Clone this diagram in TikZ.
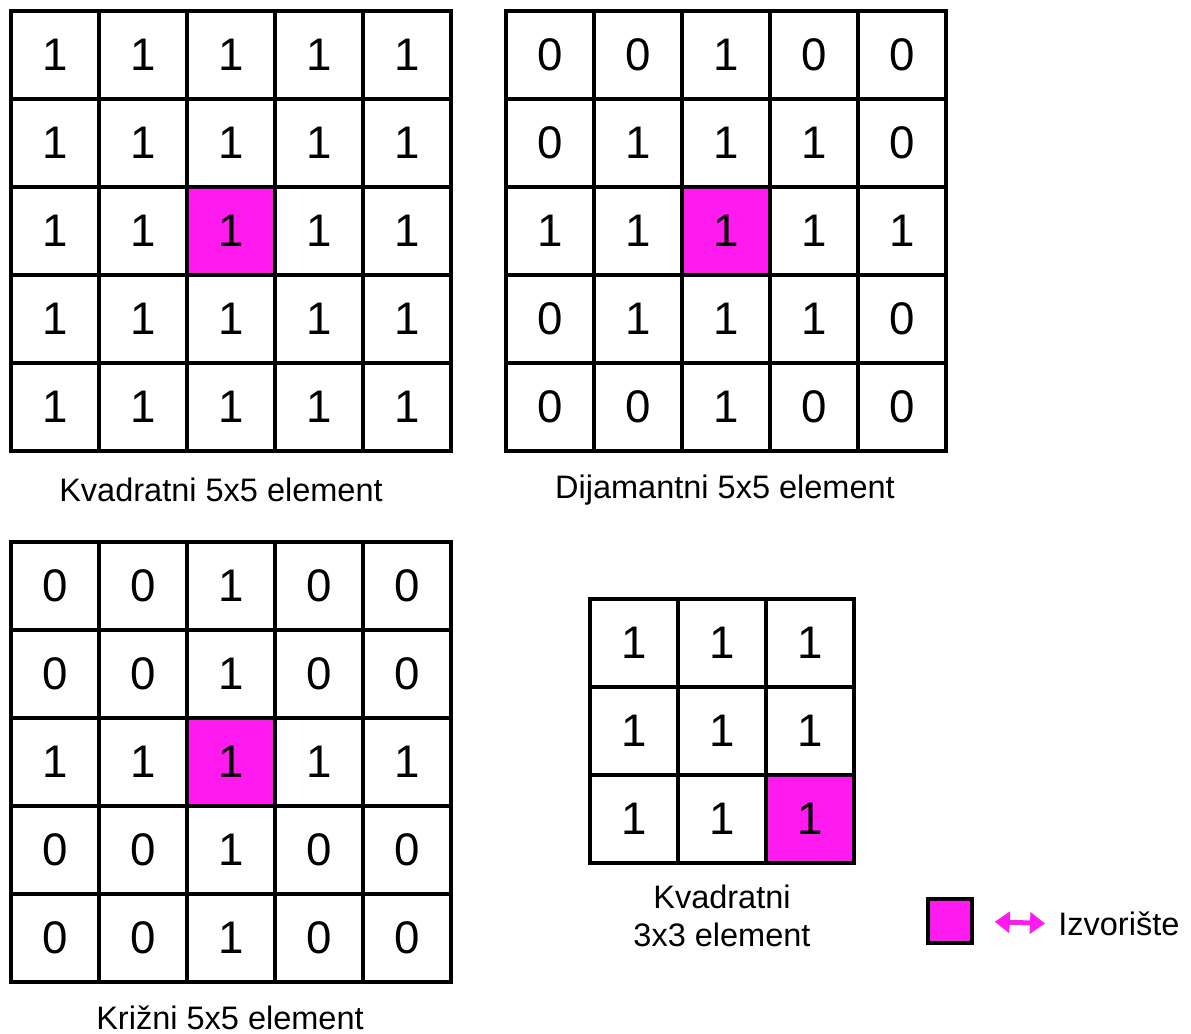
\documentclass[tikz,border=0pt]{standalone}
\usepackage{fontspec}
\setmainfont{Liberation Sans}
\usetikzlibrary{arrows.meta,positioning}
\definecolor{izvor}{RGB}{255,26,240}

\begin{document}
\begin{tikzpicture}[x=0.02cm,y=-0.02cm,
  cell/.style={draw,line width=0.07cm,minimum size=1.76cm,inner sep=0pt,
    font=\fontsize{26}{26}\selectfont},
  origin/.style={cell,fill=izvor},
  caption/.style={font=\fontsize{18.5}{22}\selectfont,align=center,inner sep=0pt},
]
\useasboundingbox (0,0) rectangle (1191,1034);

% kvadratni 5x5
\begin{scope}[shift={(55,55)}]
\foreach \row [count=\r] in {{1,1,1,1,1},{1,1,1,1,1},{1,1,1,1,1},{1,1,1,1,1},{1,1,1,1,1}}
\foreach \v [count=\c] in \row
\node[cell] (k\r\c) at ({(\c-1)*88},{(\r-1)*88}) {\v};
\node[origin] (k0) at (k33) {1};
\end{scope}

% dijamantni 5x5
\begin{scope}[shift={(550,55)}]
\foreach \row [count=\r] in {{0,0,1,0,0},{0,1,1,1,0},{1,1,1,1,1},{0,1,1,1,0},{0,0,1,0,0}}
\foreach \v [count=\c] in \row
\node[cell] (d\r\c) at ({(\c-1)*88},{(\r-1)*88}) {\v};
\node[origin] (d0) at (d33) {1};
\end{scope}

% krizni 5x5
\begin{scope}[shift={(55,586)}]
\foreach \row [count=\r] in {{0,0,1,0,0},{0,0,1,0,0},{1,1,1,1,1},{0,0,1,0,0},{0,0,1,0,0}}
\foreach \v [count=\c] in \row
\node[cell] (c\r\c) at ({(\c-1)*88},{(\r-1)*88}) {\v};
\node[origin] (c0) at (c33) {1};
\end{scope}

% kvadratni 3x3
\begin{scope}[shift={(634,643)}]
\foreach \row [count=\r] in {{1,1,1},{1,1,1},{1,1,1}}
\foreach \v [count=\c] in \row
\node[cell] (s\r\c) at ({(\c-1)*88},{(\r-1)*88}) {\v};
\node[origin] (s0) at (s33) {1};
\end{scope}

% natpisi
\node[caption] (kcap) at (221,490) {Kvadratni 5x5 element};
\node[caption] (dcap) at (725,490) {Dijamantni 5x5 element};
\node[caption] (ccap) at (230,1018) {Križni 5x5 element};
\node[caption] (scap) at (722,916) {Kvadratni\\3x3 element};

% legenda
\node[draw,fill=izvor,line width=0.07cm,minimum size=0.88cm,inner sep=0pt] (leg) at (950,921) {};
\node[caption,anchor=west] (izv) at (1058,924) {Izvorište};
\draw[izvor,line width=0.1cm,{Stealth[length=0.3cm,width=0.42cm,inset=0pt]}-{Stealth[length=0.3cm,width=0.42cm,inset=0pt]},
  shorten <=0.42cm,shorten >=0.26cm] (leg.east) -- (izv.west);
\end{tikzpicture}
\end{document}
